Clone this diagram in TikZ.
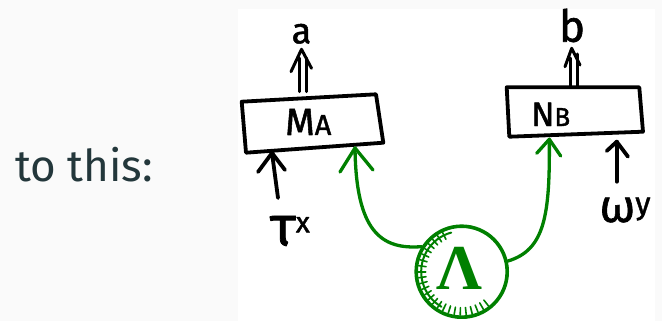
\documentclass[tikz,border=0pt]{standalone}
\usepackage{fontspec}
\setmainfont{Fira Sans}
\newfontfamily\labfont[FakeBold=1.4]{Fira Sans}
\newfontfamily\lamfont{Liberation Serif}
\usetikzlibrary{calc}
\definecolor{bgray}{HTML}{FAFAFA}
\definecolor{mteal}{HTML}{23373B}
\definecolor{hgreen}{RGB}{0,128,0}
\begin{document}
\begin{tikzpicture}[x=1pt,y=-1pt,line cap=round,line join=round,
  ink/.style={line width=3.8pt,draw=black},
  gink/.style={line width=3.3pt,draw=hgreen},
  lbl/.style={inner sep=0pt,text=black}]
\fill[bgray] (0,0) rectangle (662,321);
\fill[white] (238,9) rectangle (655,321);
\useasboundingbox (0,0) rectangle (662,321);

% intro text
\node[anchor=base west,inner sep=0pt,text=mteal,font=\fontsize{44}{44}\selectfont] (intro) at (15,181.7) {to this:};

% box M_A
\coordinate (ma1) at (241.7,101.7);
\coordinate (ma2) at (376,94.3);
\coordinate (ma3) at (383.3,142.7);
\coordinate (ma4) at (246,152.7);
\draw[ink] (ma1) -- (ma2) -- (ma3) -- (ma4) -- cycle;
\node[lbl,anchor=base west] (mA) at (285,135) {\labfont\fontsize{38}{38}\selectfont M\fontsize{29}{29}\selectfont A};

% box N_B
\coordinate (nb1) at (506.7,87.3);
\coordinate (nb2) at (639.3,87.3);
\coordinate (nb3) at (643,131.7);
\coordinate (nb4) at (509.3,136.7);
\draw[ink] (nb1) -- (nb2) -- (nb3) -- (nb4) -- cycle;
\node[lbl,anchor=base west] (nB) at (531,126) {\labfont\fontsize{34}{34}\selectfont N\fontsize{26}{26}\selectfont B};

% output a
\node[lbl,anchor=base,font=\labfont\fontsize{36}{36}\selectfont] (a) at (301.5,43.3) {a};
\coordinate (aL0) at (299,91.7); \coordinate (aL1) at (299,58);
\coordinate (aR0) at (306.5,91.7); \coordinate (aR1) at (306.5,58);
\coordinate (aH1) at (291,71.7); \coordinate (aT) at (301.5,49.3); \coordinate (aH2) at (311.5,68.3);
\draw[ink,line width=3pt] (aL0) -- (aL1);
\draw[ink,line width=3pt] (aR0) -- (aR1);
\draw[ink,line width=3pt] (aH1) -- (aT) -- (aH2);

% output b
\node[lbl,anchor=base,font=\labfont\fontsize{44}{44}\selectfont] (b) at (572,41.7) {b};
\coordinate (bL0) at (570.5,87.3); \coordinate (bL1) at (570.5,58);
\coordinate (bR0) at (577.5,87.3); \coordinate (bR1) at (577.5,54);
\coordinate (bH1) at (565,66.7); \coordinate (bT) at (571.7,48.3); \coordinate (bH2) at (580,65);
\draw[ink,line width=3pt] (bL0) -- (bL1);
\draw[ink,line width=3pt] (bR0) -- (bR1);
\draw[ink,line width=3pt] (bH1) -- (bT) -- (bH2);

% input tau^x
\node[lbl,anchor=center] (tau) at (290,231) {\labfont\fontsize{56}{56}\selectfont τ\raisebox{13pt}{\fontsize{29}{29}\selectfont x}};
\coordinate (t0) at (278,198); \coordinate (t1) at (272,153);
\coordinate (tH1) at (258,172); \coordinate (tH2) at (285,170);
\draw[ink] (t0) -- (t1);
\draw[ink] (tH1) -- (t1) -- (tH2);

% input omega^y
\node[lbl,anchor=center] (om) at (625,210) {\labfont\fontsize{46}{46}\selectfont ω\raisebox{8pt}{\fontsize{31}{31}\selectfont y}};
\coordinate (w0) at (616.7,181.7); \coordinate (w1) at (616.7,141.7);
\coordinate (wH1) at (606.7,151); \coordinate (wH2) at (628,156.7);
\draw[ink] (w0) -- (w1);
\draw[ink] (wH1) -- (w1) -- (wH2);

% source Lambda
\node[circle,draw=hgreen,line width=3.6pt,minimum size=91pt,inner sep=0pt] (lam) at (461.7,271.7) {};
\node[inner sep=0pt,text=hgreen,font=\lamfont\bfseries\fontsize{64}{64}\selectfont] (lamtext) at (459,268) {Λ};
\foreach \t in {52,60,...,250}
  \draw[hgreen,line width=1.6pt] ([shift={(\t:36)}]lam.center) -- ([shift={(\t:43.5)}]lam.center);
\draw[hgreen,line width=2pt] ([shift={(120:40.5)}]lam.center) arc[start angle=120,end angle=255,radius=40.5];

% green connectors
\coordinate (gA) at (355,148);
\coordinate (gAH1) at (340,172); \coordinate (gAH2) at (373,170);
\draw[gink] (lam.148) .. controls (380,250) and (356,230) .. (gA);
\draw[gink] (gAH1) -- (gA) -- (gAH2);
\coordinate (gB) at (549.3,139.3);
\coordinate (gBH1) at (536.7,153.3); \coordinate (gBH2) at (560.7,156);
\draw[gink] (lam.13) .. controls (545,250) and (550,215) .. (gB);
\draw[gink] (gBH1) -- (gB) -- (gBH2);
\end{tikzpicture}
\end{document}
